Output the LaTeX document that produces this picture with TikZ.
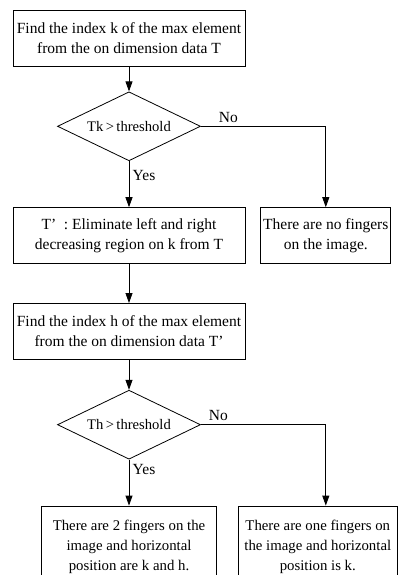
\documentclass[tikz,border=0pt]{standalone}
\usepackage{fontspec}
\setmainfont{Liberation Serif}
\usetikzlibrary{positioning, arrows.meta, shapes.geometric, calc}

\begin{document}
\begin{tikzpicture}[
    x=1pt, y=-1pt,
    font=\fontsize{15.5}{20}\selectfont,
    box/.style={draw, rectangle, align=center, line width=0.8pt, minimum height=56pt, inner sep=2pt},
    wide/.style={box, minimum width=232pt},
    decision/.style={draw, diamond, aspect=2.07, inner sep=0pt, line width=0.8pt, minimum width=143pt, minimum height=69pt, font=\fontsize{14.6}{18}\selectfont},
    result/.style={box, minimum height=82pt, font=\fontsize{14.8}{20}\selectfont},
    arrow/.style={-{Triangle[length=10pt, width=7pt]}, line width=0.8pt}
]
\useasboundingbox (0,0) rectangle (409,575);
\clip (0,0) rectangle (409,575);

\node[wide] (findk) at (129,38) {Find the index k of the max element\\ from the on dimension data T};

\node[decision, below=25pt of findk] (testk) {Tk\,>\,threshold};

\node[wide, below=46pt of testk] (cutT) {T’\enspace: Eliminate left and right\\ decreasing region on k from T};

\node[box, minimum width=130pt, inner sep=1pt, right=15pt of cutT] (nofinger) {There are no fingers\\ on the image.};

\node[wide, below=39pt of cutT] (findh) {Find the index h of the max element\\ from the on dimension data T’};

\node[decision, below=30pt of findh] (testh) {Th\,>\,threshold};

\node[result, minimum width=175pt, below=46pt of testh] (twofinger) {There are 2 fingers on the\\ image and horizontal\\ position are k and h.};

\node[result, minimum width=159pt, right=21pt of twofinger] (onefinger) {There are one fingers on\\ the image and horizontal\\ position is k.};

\draw[arrow] (findk) -- (testk);
\draw[arrow] (testk) -- node[right, pos=0.32] {Yes} (cutT);
\draw[arrow] (testk.east) -| node[above, pos=0.11] {No} (nofinger.north);
\draw[arrow] (cutT) -- (findh);
\draw[arrow] (findh) -- (testh);
\draw[arrow] (testh) -- node[right, pos=0.22] {Yes} (twofinger);
\draw[arrow] (testh.east) -| node[above, pos=0.07] {No} (nofinger.south |- onefinger.north);

\end{tikzpicture}
\end{document}
